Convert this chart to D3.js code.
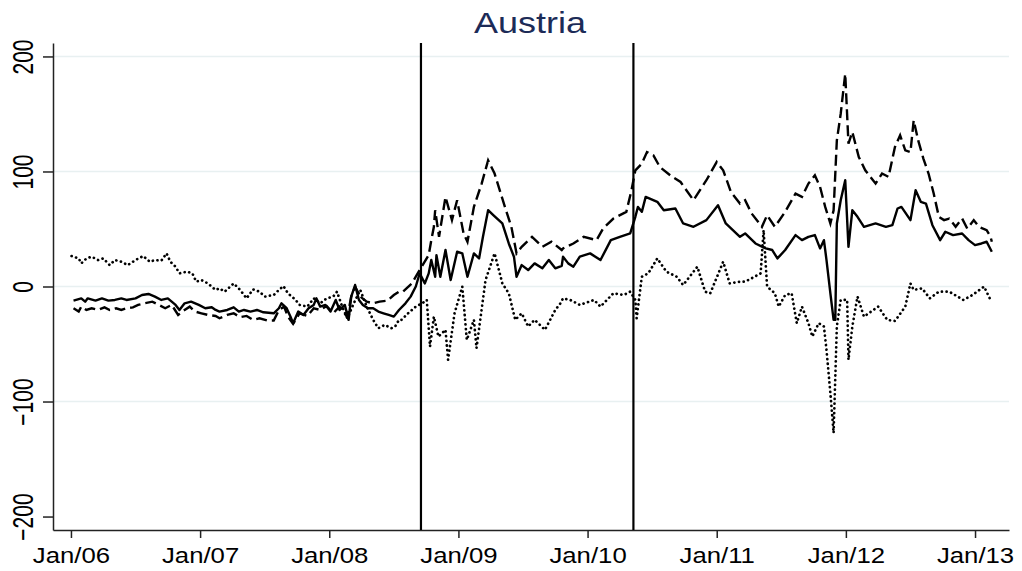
<!DOCTYPE html>
<html>
<head>
<meta charset="utf-8">
<script src="https://cdn.jsdelivr.net/npm/d3@7"></script>
<style>
  body { margin: 0; background: #fff; }
  text { font-family: "Liberation Sans", Arial, sans-serif; }
</style>
</head>
<body>
<script>
// values, x in decimal years
const seriesSolid = [[2006.02,-12.3],[2006.08,-10.3],[2006.11,-13.2],[2006.13,-10.3],[2006.19,-12.3],[2006.24,-10.3],[2006.29,-12.3],[2006.34,-11.7],[2006.39,-10.3],[2006.43,-11.7],[2006.50,-10.3],[2006.55,-7.4],[2006.60,-6.5],[2006.65,-8.8],[2006.70,-11.7],[2006.75,-10.3],[2006.81,-16],[2006.84,-20.4],[2006.88,-14.6],[2006.93,-13.2],[2006.99,-16],[2007.04,-18.9],[2007.09,-18],[2007.12,-20.4],[2007.15,-21.8],[2007.21,-20.4],[2007.26,-18.1],[2007.30,-21.8],[2007.34,-20.4],[2007.39,-21.8],[2007.44,-20.4],[2007.49,-22.4],[2007.57,-23.3],[2007.61,-18.9],[2007.63,-14.6],[2007.67,-18.9],[2007.70,-26.2],[2007.72,-31.9],[2007.76,-21.8],[2007.80,-24.7],[2007.84,-18.9],[2007.88,-16],[2007.90,-10.3],[2007.93,-17.5],[2007.97,-16],[2008.01,-21.8],[2008.05,-11.7],[2008.08,-20.4],[2008.12,-16],[2008.15,-29],[2008.17,-8.8],[2008.20,1.3],[2008.23,-11.7],[2008.26,-16],[2008.30,-18.9],[2008.34,-18.9],[2008.38,-21.8],[2008.42,-23.3],[2008.46,-24.7],[2008.50,-26.2],[2008.54,-20.4],[2008.59,-14.6],[2008.63,-8.8],[2008.67,0],[2008.70,11.4],[2008.74,2.7],[2008.77,11.4],[2008.79,23],[2008.82,8.5],[2008.83,27.3],[2008.86,8.5],[2008.90,31.7],[2008.94,5.6],[2008.99,30.2],[2009.03,28.8],[2009.07,8.5],[2009.12,28.8],[2009.16,24.4],[2009.19,43.2],[2009.23,66.3],[2009.27,62],[2009.34,54.8],[2009.39,37.4],[2009.43,25.9],[2009.45,8.5],[2009.49,18.6],[2009.54,14.3],[2009.59,20.1],[2009.65,15.8],[2009.70,23],[2009.75,15.8],[2009.80,18],[2009.81,25.9],[2009.85,20.1],[2009.89,17.2],[2009.94,25.9],[2010.02,28.8],[2010.10,23],[2010.18,40.3],[2010.25,43.2],[2010.33,46.1],[2010.37,60.6],[2010.39,69.2],[2010.42,64.9],[2010.45,77.9],[2010.54,73.6],[2010.59,66.3],[2010.68,67.8],[2010.74,54.8],[2010.82,51.9],[2010.92,57.7],[2011.01,70.7],[2011.07,54.8],[2011.18,43.2],[2011.22,46.1],[2011.30,37.4],[2011.38,33.1],[2011.43,31.7],[2011.47,24.4],[2011.53,31.7],[2011.61,44.7],[2011.66,40.3],[2011.71,43.2],[2011.76,44.7],[2011.80,33.1],[2011.83,40.3],[2011.85,23],[2011.88,-5.9],[2011.905,-29],[2011.918,-29],[2011.93,54.8],[2011.96,75],[2011.995,92.4],[2012.02,34.5],[2012.05,66.3],[2012.09,60.6],[2012.14,51.9],[2012.23,54.8],[2012.31,51.9],[2012.36,53.3],[2012.40,67.8],[2012.43,69.2],[2012.50,57.7],[2012.54,83.7],[2012.58,73.6],[2012.62,72.1],[2012.67,53.3],[2012.73,40.3],[2012.77,47.6],[2012.83,44.7],[2012.90,46.1],[2012.95,40.3],[2013.00,36],[2013.05,37.4],[2013.09,38.9],[2013.13,30.2]];

const seriesDashed = [[2006.02,-18.9],[2006.06,-21.8],[2006.08,-17.5],[2006.12,-20.4],[2006.16,-18.9],[2006.21,-20.4],[2006.26,-18.1],[2006.30,-20.4],[2006.35,-18.9],[2006.39,-20.4],[2006.43,-18.9],[2006.48,-18.1],[2006.52,-16],[2006.57,-14.6],[2006.63,-13.2],[2006.68,-16],[2006.73,-18.9],[2006.78,-16],[2006.83,-24.7],[2006.88,-20.4],[2006.92,-17.5],[2006.96,-21.8],[2007.01,-23.3],[2007.06,-24.7],[2007.12,-25.6],[2007.15,-27.6],[2007.21,-24.7],[2007.26,-23.3],[2007.31,-26.7],[2007.36,-25.6],[2007.41,-29],[2007.46,-27.6],[2007.52,-29.6],[2007.57,-29.6],[2007.61,-20.4],[2007.65,-17.5],[2007.68,-26.2],[2007.72,-32.5],[2007.77,-23.3],[2007.83,-25.6],[2007.88,-18.9],[2007.93,-20.4],[2007.98,-16.9],[2008.03,-23.3],[2008.08,-17.5],[2008.14,-26.7],[2008.17,-8.8],[2008.20,-0.1],[2008.24,-8.8],[2008.29,-13.2],[2008.34,-14.6],[2008.39,-13.2],[2008.45,-12.3],[2008.50,-7.4],[2008.54,-4.5],[2008.57,-4.5],[2008.64,2.7],[2008.70,14.3],[2008.77,27.3],[2008.79,40.3],[2008.81,51.9],[2008.82,66.3],[2008.85,43.2],[2008.90,77.9],[2008.95,57.7],[2008.99,75],[2009.04,46.1],[2009.07,38.9],[2009.12,69.2],[2009.18,89.5],[2009.23,109.7],[2009.28,98.2],[2009.36,69.2],[2009.41,51.9],[2009.45,28.8],[2009.49,34.5],[2009.57,43.2],[2009.65,34.5],[2009.72,38.9],[2009.80,31.7],[2009.81,33.1],[2009.89,37.4],[2009.97,43.2],[2010.07,40.3],[2010.12,50.4],[2010.20,59.1],[2010.30,64.9],[2010.34,83.7],[2010.37,101],[2010.42,106.8],[2010.46,116.9],[2010.51,114],[2010.56,103.9],[2010.64,96.7],[2010.72,90.9],[2010.82,75],[2010.92,92.4],[2011.00,108.3],[2011.05,101],[2011.11,82.2],[2011.18,72.1],[2011.22,75],[2011.27,63.5],[2011.35,51.9],[2011.39,62],[2011.45,51.9],[2011.53,64.9],[2011.61,80.8],[2011.66,77.9],[2011.71,89.5],[2011.76,96.7],[2011.80,86.6],[2011.84,69.2],[2011.88,54.8],[2011.905,66.3],[2011.93,127],[2011.96,150.2],[2011.995,184.9],[2012.02,124.2],[2012.05,134.3],[2012.10,112.6],[2012.15,101],[2012.23,89.5],[2012.28,98.2],[2012.33,95.3],[2012.38,121.3],[2012.42,131.4],[2012.46,118.4],[2012.50,116.9],[2012.525,144.4],[2012.56,127],[2012.60,111.2],[2012.64,98.2],[2012.68,80.8],[2012.72,60.6],[2012.76,57.7],[2012.80,59.1],[2012.85,51.9],[2012.90,59.1],[2012.94,50.4],[2012.99,57.7],[2013.03,51.9],[2013.09,49],[2013.12,43.2],[2013.13,38.9]];

const seriesDotted = [[2006.005,26.5],[2006.06,24.4],[2006.08,20.1],[2006.12,24.4],[2006.16,25.9],[2006.21,23],[2006.25,24.4],[2006.30,18.6],[2006.34,23],[2006.39,21.5],[2006.44,18.6],[2006.50,23],[2006.56,26.5],[2006.61,21.5],[2006.65,23],[2006.70,22.5],[2006.74,28.8],[2006.77,21.5],[2006.81,17.2],[2006.84,11.4],[2006.90,12.9],[2006.94,11.4],[2006.97,4.2],[2007.01,5.6],[2007.06,2.7],[2007.12,-3],[2007.15,-1.6],[2007.19,-4.5],[2007.26,2.7],[2007.31,-3],[2007.36,-10.3],[2007.41,-2.5],[2007.46,-4.5],[2007.50,-8.8],[2007.57,-7.4],[2007.61,-3],[2007.645,0.4],[2007.68,-5.9],[2007.74,-11.7],[2007.77,-16],[2007.83,-17.5],[2007.88,-10.3],[2007.93,-14.6],[2007.98,-10.3],[2008.03,-8.8],[2008.06,-4.5],[2008.10,-17.5],[2008.14,-27.6],[2008.19,-14.6],[2008.24,-3],[2008.29,-17.5],[2008.34,-29],[2008.38,-36.3],[2008.43,-33.4],[2008.48,-36.3],[2008.51,-34.8],[2008.54,-29],[2008.56,-29],[2008.61,-23.3],[2008.67,-17.5],[2008.72,-14.6],[2008.755,-11.7],[2008.78,-52.2],[2008.81,-26.2],[2008.845,-43.5],[2008.90,-37.7],[2008.92,-63.7],[2008.97,-23.3],[2009.03,-0.1],[2009.065,-46.4],[2009.12,-29],[2009.14,-53.6],[2009.21,5.6],[2009.28,28.8],[2009.34,2.7],[2009.39,-5.9],[2009.44,-29],[2009.49,-23.3],[2009.54,-34.8],[2009.59,-29],[2009.67,-37.7],[2009.75,-20.4],[2009.79,-14.6],[2009.81,-10.3],[2009.865,-11.7],[2009.94,-16],[2010.05,-11.7],[2010.10,-17.5],[2010.20,-5.9],[2010.28,-7.4],[2010.33,-4.5],[2010.37,-11.7],[2010.38,-27.6],[2010.42,8.5],[2010.47,11.4],[2010.54,24.4],[2010.61,12.9],[2010.69,8.5],[2010.74,1.3],[2010.85,17.2],[2010.91,-4.5],[2010.95,-5.9],[2011.05,21.5],[2011.10,2.7],[2011.18,4.2],[2011.22,4.2],[2011.27,7.1],[2011.34,11.4],[2011.363,49],[2011.39,-0.1],[2011.45,-5.9],[2011.48,-17.5],[2011.53,-7.4],[2011.58,-5.9],[2011.62,-31.9],[2011.66,-17.5],[2011.71,-31.9],[2011.74,-43.5],[2011.79,-31.9],[2011.83,-34.8],[2011.85,-55.1],[2011.88,-92.7],[2011.905,-127.3],[2011.93,-34.8],[2011.96,-11.7],[2012.01,-11.7],[2012.02,-63.7],[2012.05,-34.8],[2012.09,-8.8],[2012.14,-26.2],[2012.25,-17.5],[2012.32,-29],[2012.38,-30],[2012.46,-17.5],[2012.50,2.7],[2012.525,-3],[2012.59,-1.6],[2012.65,-10.3],[2012.72,-4.5],[2012.80,-4.5],[2012.91,-11.7],[2012.98,-7.4],[2013.07,-0.1],[2013.12,-11.7]];

const eventLines = [2008.71, 2010.355];   // Sep 2008, May 2010
const yTicks = [-200, -100, 0, 100, 200];
const yGrid = [-100, 0, 100, 200];
const xTicks = [2006, 2007, 2008, 2009, 2010, 2011, 2012, 2013];
const xTickLabels = ["Jan/06", "Jan/07", "Jan/08", "Jan/09", "Jan/10", "Jan/11", "Jan/12", "Jan/13"];
const title = "Austria";

const width = 1022, height = 571;
const mLeft = 53, mRight = 1009, mTop = 43, mBottom = 530;

const svg = d3.select("body").append("svg")
    .attr("width", width).attr("height", height);

const x = d3.scaleLinear().domain([2005.861, 2013.263]).range([mLeft, mRight]);
const y = d3.scaleLinear().domain([-211.7, 211.7]).range([mBottom, mTop]);

// grid
svg.append("g").selectAll("line")
  .data(yGrid).enter().append("line")
    .attr("x1", mLeft).attr("x2", mRight)
    .attr("y1", d => y(d)).attr("y2", d => y(d))
    .attr("stroke", "#e8f0f1").attr("stroke-width", 1.5);

// axes
const yAxis = svg.append("g")
    .attr("transform", `translate(${mLeft},0)`)
    .call(d3.axisLeft(y).tickValues(yTicks).tickSize(10).tickSizeOuter(0));
yAxis.select(".domain").attr("stroke", "#222").attr("stroke-width", 1.5);
yAxis.selectAll(".tick line").attr("stroke", "#222").attr("stroke-width", 1.5);
yAxis.selectAll(".tick text")
    .attr("x", 0).attr("dy", 0)
    .attr("transform", "translate(-20,0) scale(1.38,1) rotate(-90)")
    .attr("text-anchor", "middle")
    .attr("font-size", 21)
    .attr("fill", "#000")
    .attr("font-family", "'Liberation Sans', Arial, sans-serif");

const xAxis = svg.append("g")
    .attr("transform", `translate(0,${mBottom})`)
    .call(d3.axisBottom(x).tickValues(xTicks).tickSize(8).tickSizeOuter(0)
      .tickFormat((d, i) => xTickLabels[i]));
xAxis.select(".domain").attr("stroke", "#222").attr("stroke-width", 1.5);
xAxis.selectAll(".tick line").attr("stroke", "#222").attr("stroke-width", 1.5);
xAxis.selectAll(".tick text")
    .attr("y", 0).attr("dy", 0)
    .attr("transform", "translate(0,32.5) scale(1.17,1)")
    .attr("font-size", 22)
    .attr("fill", "#000")
    .attr("font-family", "'Liberation Sans', Arial, sans-serif");

// event lines
svg.append("g").selectAll("line")
  .data(eventLines).enter().append("line")
    .attr("x1", d => x(d)).attr("x2", d => x(d))
    .attr("y1", mTop).attr("y2", mBottom)
    .attr("stroke", "#000").attr("stroke-width", 2.2);

const line = d3.line().x(d => x(d[0])).y(d => y(d[1]));

svg.append("path").datum(seriesDotted)
    .attr("d", line).attr("fill", "none")
    .attr("stroke", "#000").attr("stroke-width", 2.7)
    .attr("stroke-linecap", "round")
    .attr("stroke-dasharray", "0.1,4.6");

svg.append("path").datum(seriesDashed)
    .attr("d", line).attr("fill", "none")
    .attr("stroke", "#000").attr("stroke-width", 2.4)
    .attr("stroke-dasharray", "11,5");

svg.append("path").datum(seriesSolid)
    .attr("d", line).attr("fill", "none")
    .attr("stroke", "#000").attr("stroke-width", 2.4)
    .attr("stroke-linejoin", "round");

// title
svg.append("text")
    .attr("transform", "translate(530,33) scale(1.2,1)")
    .attr("text-anchor", "middle")
    .attr("font-size", 30)
    .attr("fill", "#1c2b57")
    .text(title);
</script>
</body>
</html>
